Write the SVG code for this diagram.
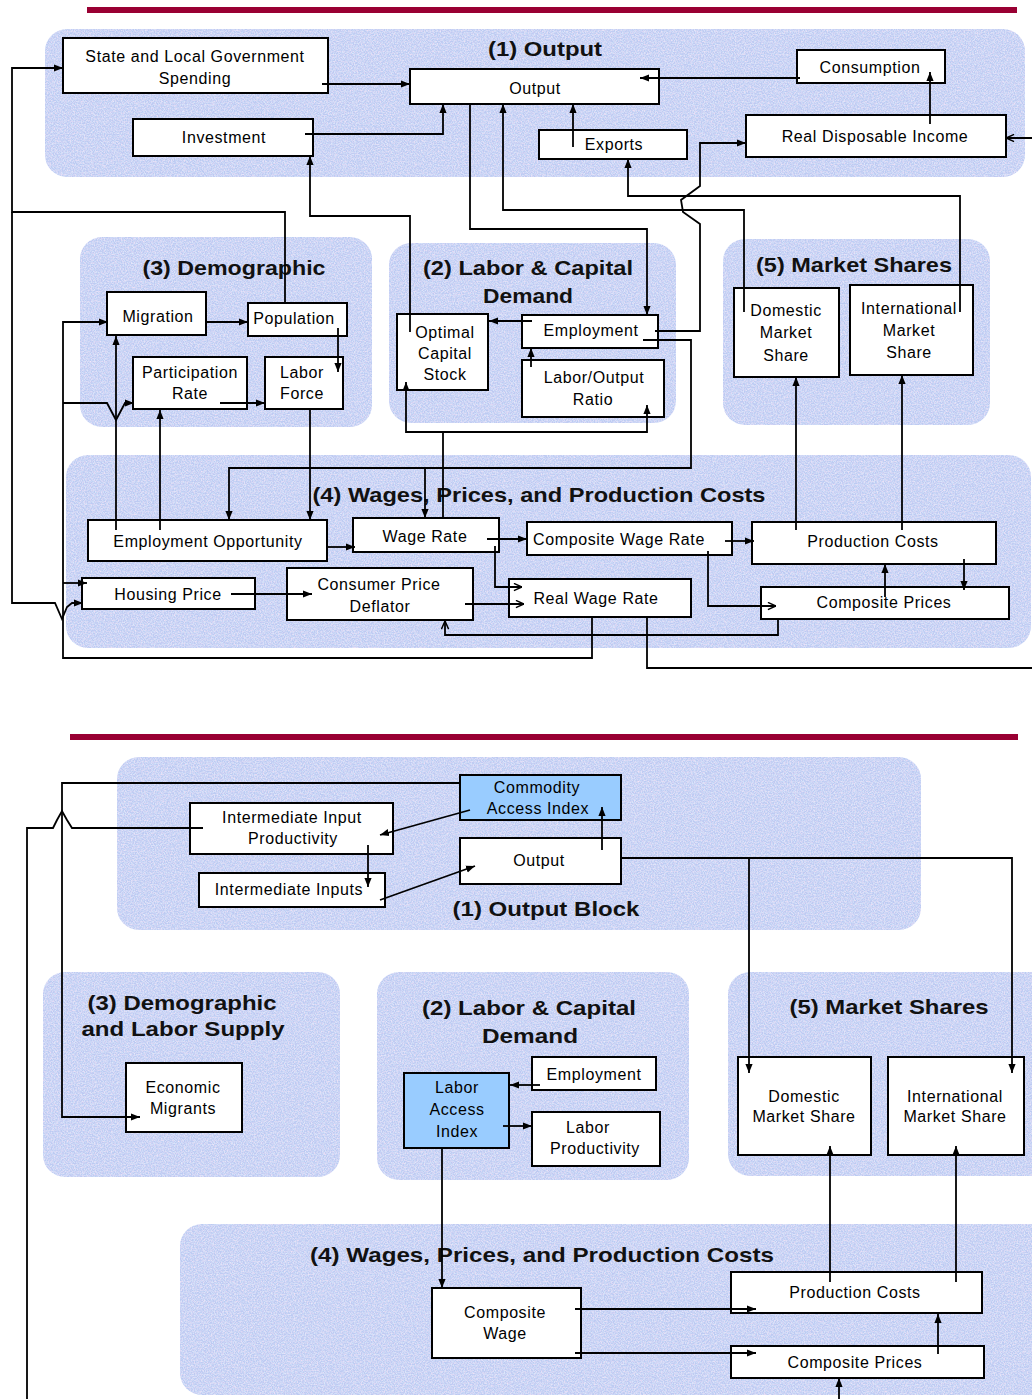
<svg xmlns="http://www.w3.org/2000/svg" width="1032" height="1399" viewBox="0 0 1032 1399">
<defs>
<style>
.rg{fill:#bdcaf2;filter:url(#tex)}
.bx rect{fill:#fff;stroke:#000;stroke-width:2}
.bx.hl rect{fill:#99ccff}
.bx text{font-family:"Liberation Sans",Arial,sans-serif;font-size:16px;letter-spacing:0.6px;text-anchor:middle;fill:#000}
.ttl{font-family:"Liberation Sans",Arial,sans-serif;font-size:21px;font-weight:bold;text-anchor:middle;fill:#111}
#connectors path{fill:none;stroke:#000;stroke-width:1.8}
.f{marker-end:url(#ah)}
.o{marker-end:url(#ao)}
</style>
<filter id="tex" x="0" y="0" width="100%" height="100%">
<feTurbulence type="fractalNoise" baseFrequency="0.7" numOctaves="2" seed="7" result="n"/>
<feColorMatrix in="n" type="matrix" values="0 0 0 0 0.93  0 0 0 0 0.78  0 0 0 0 0.93  2.0 0 0 0 -0.85" result="p"/>
<feComposite in="p" in2="SourceGraphic" operator="atop" result="a"/>
<feTurbulence type="fractalNoise" baseFrequency="0.9" numOctaves="1" seed="21" result="n2"/>
<feColorMatrix in="n2" type="matrix" values="0 0 0 0 0.72  0 0 0 0 0.86  0 0 0 0 1  2.0 0 0 0 -0.85" result="b"/>
<feComposite in="b" in2="a" operator="atop"/>
</filter>
<marker id="ah" viewBox="0 0 10 10" refX="10" refY="5" markerWidth="9" markerHeight="9" markerUnits="userSpaceOnUse" orient="auto"><path d="M0,1 L10,5 L0,9 z" fill="#000"/></marker>
<marker id="ao" viewBox="0 0 10 10" refX="10" refY="5" markerWidth="9" markerHeight="9" markerUnits="userSpaceOnUse" orient="auto"><path d="M1,1 L10,5 L1,9" fill="none" stroke="#000" stroke-width="1.6"/></marker>
</defs>
<rect width="1032" height="1399" fill="#fff"/>

<line x1="87" y1="10" x2="1017" y2="10" stroke="#990033" stroke-width="6"/>
<line x1="70" y1="737" x2="1018" y2="737" stroke="#990033" stroke-width="6"/>

<g id="regions">
<rect class="rg" x="45" y="29" width="980" height="148" rx="22"/>
<rect class="rg" x="80" y="237" width="292" height="190" rx="22"/>
<rect class="rg" x="389" y="243" width="287" height="180" rx="22"/>
<rect class="rg" x="723" y="239" width="267" height="186" rx="22"/>
<rect class="rg" x="66" y="455" width="965" height="193" rx="22"/>
<rect class="rg" x="117" y="757" width="804" height="173" rx="22"/>
<rect class="rg" x="43" y="972" width="297" height="205" rx="22"/>
<rect class="rg" x="377" y="972" width="312" height="208" rx="22"/>
<rect class="rg" x="728" y="972" width="330" height="204" rx="22"/>
<rect class="rg" x="180" y="1224" width="880" height="171" rx="22"/>
</g>

<g id="titles">
<text class="ttl" x="545" y="56" textLength="114" lengthAdjust="spacingAndGlyphs">(1) Output</text>
<text class="ttl" x="234" y="275" textLength="183" lengthAdjust="spacingAndGlyphs">(3) Demographic</text>
<text class="ttl" x="528" y="275" textLength="210" lengthAdjust="spacingAndGlyphs">(2) Labor &amp; Capital</text>
<text class="ttl" x="528" y="303" textLength="90" lengthAdjust="spacingAndGlyphs">Demand</text>
<text class="ttl" x="854" y="272" textLength="196" lengthAdjust="spacingAndGlyphs">(5) Market Shares</text>
<text class="ttl" x="539" y="502" textLength="453" lengthAdjust="spacingAndGlyphs">(4) Wages, Prices, and Production Costs</text>
<text class="ttl" x="546" y="916" textLength="187" lengthAdjust="spacingAndGlyphs">(1) Output Block</text>
<text class="ttl" x="182" y="1010" textLength="189" lengthAdjust="spacingAndGlyphs">(3) Demographic</text>
<text class="ttl" x="183" y="1036" textLength="203" lengthAdjust="spacingAndGlyphs">and Labor Supply</text>
<text class="ttl" x="529" y="1015" textLength="214" lengthAdjust="spacingAndGlyphs">(2) Labor &amp; Capital</text>
<text class="ttl" x="530" y="1043" textLength="96" lengthAdjust="spacingAndGlyphs">Demand</text>
<text class="ttl" x="889" y="1014" textLength="199" lengthAdjust="spacingAndGlyphs">(5) Market Shares</text>
<text class="ttl" x="542" y="1262" textLength="464" lengthAdjust="spacingAndGlyphs">(4) Wages, Prices, and Production Costs</text>
</g>

<!-- top nodes -->
<g id="slg" class="bx"><rect x="63" y="38" width="265" height="55"/><text x="195" y="62">State and Local Government</text><text x="195" y="84">Spending</text></g>
<g id="output1" class="bx"><rect x="410" y="69" width="249" height="35"/><text x="535" y="94">Output</text></g>
<g id="consumption" class="bx"><rect x="797" y="50" width="148" height="33"/><text x="870" y="73">Consumption</text></g>
<g id="investment" class="bx"><rect x="133" y="119" width="180" height="37"/><text x="224" y="143">Investment</text></g>
<g id="exports" class="bx"><rect x="539" y="130" width="148" height="29"/><text x="614" y="150">Exports</text></g>
<g id="rdi" class="bx"><rect x="746" y="115" width="260" height="42"/><text x="875" y="142">Real Disposable Income</text></g>
<g id="migration" class="bx"><rect x="107" y="292" width="99" height="43"/><text x="158" y="322">Migration</text></g>
<g id="population" class="bx"><rect x="248" y="303" width="99" height="33"/><text x="294" y="324">Population</text></g>
<g id="participation" class="bx"><rect x="133" y="357" width="114" height="52"/><text x="190" y="378">Participation</text><text x="190" y="399">Rate</text></g>
<g id="laborforce" class="bx"><rect x="265" y="357" width="78" height="52"/><text x="302" y="378">Labor</text><text x="302" y="399">Force</text></g>
<g id="optimal" class="bx"><rect x="397" y="314" width="91" height="76"/><text x="445" y="338">Optimal</text><text x="445" y="359">Capital</text><text x="445" y="380">Stock</text></g>
<g id="employment1" class="bx"><rect x="522" y="315" width="136" height="33"/><text x="591" y="336">Employment</text></g>
<g id="laboroutput" class="bx"><rect x="522" y="360" width="142" height="57"/><text x="594" y="383">Labor/Output</text><text x="593" y="405">Ratio</text></g>
<g id="domestic1" class="bx"><rect x="734" y="288" width="105" height="89"/><text x="786" y="316">Domestic</text><text x="786" y="338">Market</text><text x="786" y="361">Share</text></g>
<g id="intl1" class="bx"><rect x="850" y="285" width="123" height="90"/><text x="909" y="314">International</text><text x="909" y="336">Market</text><text x="909" y="358">Share</text></g>
<g id="empopp" class="bx"><rect x="88" y="520" width="239" height="41"/><text x="208" y="547">Employment Opportunity</text></g>
<g id="wagerate" class="bx"><rect x="353" y="518" width="146" height="34"/><text x="425" y="542">Wage Rate</text></g>
<g id="housing" class="bx"><rect x="82" y="578" width="173" height="31"/><text x="168" y="600">Housing Price</text></g>
<g id="cpd" class="bx"><rect x="287" y="568" width="186" height="52"/><text x="379" y="590">Consumer Price</text><text x="380" y="612">Deflator</text></g>
<g id="cwr" class="bx"><rect x="527" y="522" width="205" height="33"/><text x="619" y="545">Composite Wage Rate</text></g>
<g id="rwr" class="bx"><rect x="509" y="579" width="182" height="38"/><text x="596" y="604">Real Wage Rate</text></g>
<g id="prodcost1" class="bx"><rect x="752" y="522" width="244" height="42"/><text x="873" y="547">Production Costs</text></g>
<g id="compprice1" class="bx"><rect x="761" y="587" width="248" height="32"/><text x="884" y="608">Composite Prices</text></g>

<!-- bottom nodes -->
<g id="cai" class="bx hl"><rect x="460" y="775" width="161" height="45"/><text x="537" y="793">Commodity</text><text x="538" y="814">Access Index</text></g>
<g id="iip" class="bx"><rect x="190" y="803" width="203" height="51"/><text x="292" y="823">Intermediate Input</text><text x="293" y="844">Productivity</text></g>
<g id="ii" class="bx"><rect x="199" y="873" width="186" height="34"/><text x="289" y="895">Intermediate Inputs</text></g>
<g id="output2" class="bx"><rect x="460" y="838" width="161" height="46"/><text x="539" y="866">Output</text></g>
<g id="econmig" class="bx"><rect x="126" y="1063" width="116" height="69"/><text x="183" y="1093">Economic</text><text x="183" y="1114">Migrants</text></g>
<g id="lai" class="bx hl"><rect x="404" y="1073" width="105" height="75"/><text x="457" y="1093">Labor</text><text x="457" y="1115">Access</text><text x="457" y="1137">Index</text></g>
<g id="employment2" class="bx"><rect x="532" y="1057" width="124" height="33"/><text x="594" y="1080">Employment</text></g>
<g id="laborprod" class="bx"><rect x="532" y="1112" width="128" height="54"/><text x="588" y="1133">Labor</text><text x="595" y="1154">Productivity</text></g>
<g id="domestic2" class="bx"><rect x="738" y="1057" width="133" height="98"/><text x="804" y="1102">Domestic</text><text x="804" y="1122">Market Share</text></g>
<g id="intl2" class="bx"><rect x="888" y="1057" width="136" height="98"/><text x="955" y="1102">International</text><text x="955" y="1122">Market Share</text></g>
<g id="compwage" class="bx"><rect x="432" y="1288" width="149" height="70"/><text x="505" y="1318">Composite</text><text x="505" y="1339">Wage</text></g>
<g id="prodcost2" class="bx"><rect x="731" y="1272" width="251" height="41"/><text x="855" y="1298">Production Costs</text></g>
<g id="compprice2" class="bx"><rect x="731" y="1346" width="253" height="32"/><text x="855" y="1368">Composite Prices</text></g>

<g id="connectors">
<path class="f" d="M285,303 V212 H12 V68 H63"/>
<path class="f" d="M12,212 V603 H55 L62,619 L67,607 L72,603 H83"/>
<path class="f" d="M322,84 H410"/>
<path class="f" d="M305,134 H443 V104"/>
<path class="f" d="M410,332 V216 H310 V156"/>
<path class="f" d="M470,104 V229 H647 V315"/>
<path class="f" d="M744,312 V210 H503 V104"/>
<path class="f" d="M960,312 V196 H628 V159"/>
<path class="f" d="M573,147 V104"/>
<path class="f" d="M800,78 H640"/>
<path class="f" d="M930,124 V72"/>
<path class="f" d="M655,331 H700 V224 L683,212 L681,200 L700,186 V143 H746"/>
<path class="o" d="M647,617 V668 H1045 V138 H1006"/>
<path class="f" d="M206,322 H248"/>
<path class="f" d="M338,328 V372"/>
<path class="f" d="M220,403 H265"/>
<path class="f" d="M592,617 V658 H63 V322 H108"/>
<path class="f" d="M63,403 H107 L116,420 L125,403 H134"/>
<path class="f" d="M63,583 H87"/>
<path class="f" d="M116,530 V336"/>
<path class="f" d="M160,530 V410"/>
<path class="f" d="M310,409 V520"/>
<path class="f" d="M532,321 H489"/>
<path class="f" d="M531,367 V348"/>
<path class="f" d="M443,518 V432 H406 V382"/>
<path class="f" d="M443,432 H647 V405"/>
<path class="f" d="M643,340 H691 V468 H229 V520"/>
<path class="f" d="M425,468 V518"/>
<path class="f" d="M327,547 H355"/>
<path class="f" d="M487,539 H527"/>
<path class="o" d="M495,546 V587 H522"/>
<path class="o" d="M465,604 H524"/>
<path class="f" d="M231,594 H312"/>
<path class="o" d="M778,619 V635 H445 V621"/>
<path class="f" d="M725,541 H754"/>
<path class="o" d="M708,551 V606 H776"/>
<path class="f" d="M885,597 V564"/>
<path class="f" d="M964,559 V590"/>
<path class="f" d="M796,530 V377"/>
<path class="f" d="M902,530 V375"/>
<path class="f" d="M470,810 L380,835"/>
<path class="f" d="M380,900 L475,866"/>
<path class="f" d="M368,845 V887"/>
<path class="f" d="M602,850 V807"/>
<path class="f" d="M460,783 H62 V1117 H140"/>
<path class="f" d="M203,828 H72 L67,820 L62,811 L57,820 L53,828 H27 V1412 H839 V1378"/>
<path class="f" d="M621,858 H1012 V1073"/>
<path class="f" d="M749,858 V1073"/>
<path class="f" d="M540,1085 H510"/>
<path class="f" d="M503,1126 H532"/>
<path class="f" d="M442,1148 V1288"/>
<path class="f" d="M575,1309 H756"/>
<path class="f" d="M575,1353 H756"/>
<path class="f" d="M938,1354 V1314"/>
<path class="f" d="M830,1282 V1146"/>
<path class="f" d="M956,1282 V1146"/>
</g>
</svg>
